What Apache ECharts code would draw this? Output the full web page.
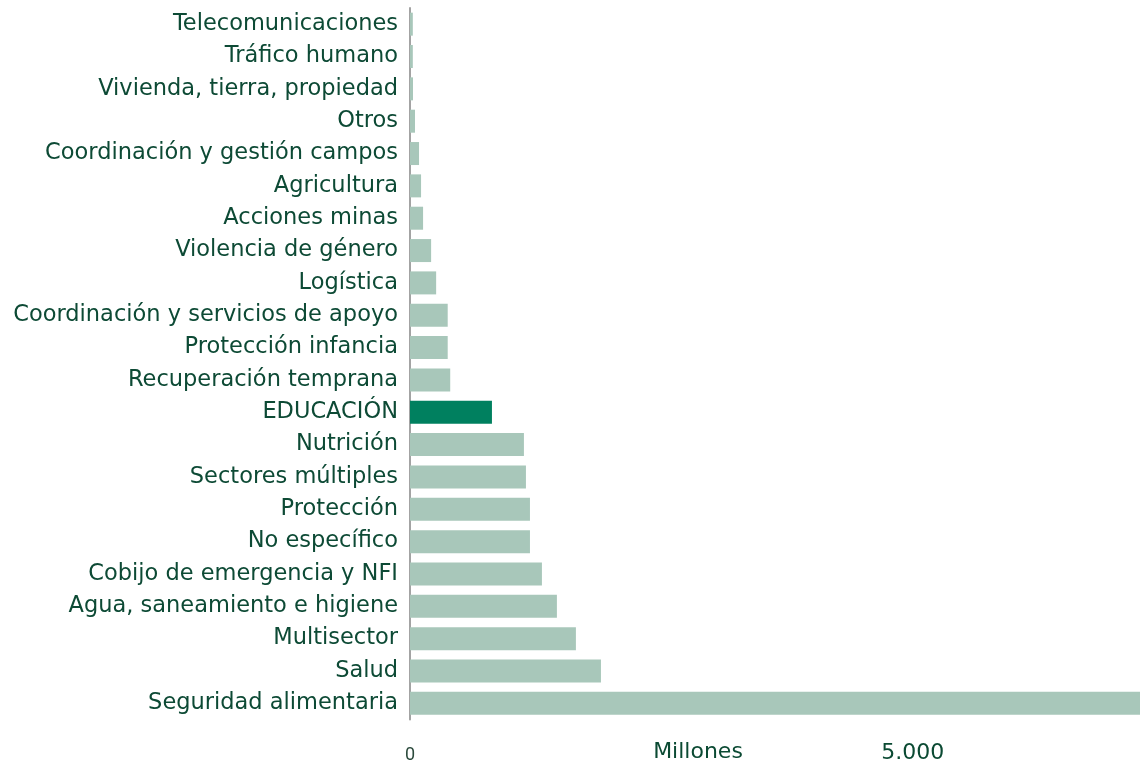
<!DOCTYPE html>
<html>
<head>
<meta charset="utf-8">
<script src="https://cdn.jsdelivr.net/npm/echarts@6/dist/echarts.min.js"></script>
<style>html,body{margin:0;padding:0;background:#fff}#c{width:1140px;height:760px}</style>
</head>
<body>
<div id="c"></div>
<script>
const categories = [
  "Telecomunicaciones","Tráfico humano","Vivienda, tierra, propiedad","Otros",
  "Coordinación y gestión campos","Agricultura","Acciones minas","Violencia de género",
  "Logística","Coordinación y servicios de apoyo","Protección infancia","Recuperación temprana",
  "EDUCACIÓN","Nutrición","Sectores múltiples","Protección","No específico",
  "Cobijo de emergencia y NFI","Agua, saneamiento e higiene","Multisector","Salud","Seguridad alimentaria"
];
const values = [28, 28, 30, 50, 90, 110, 130, 210, 260, 375, 375, 400, 815, 1133, 1153, 1193, 1193, 1312, 1461, 1650, 1899, 7300];
const highlight = "EDUCACIÓN";
const xTicks = [0, 5000];

const chart = echarts.init(document.getElementById('c'));
const font = "DejaVu Sans";
chart.setOption({
  animation: false,
  grid: { left: 410, top: 8, right: 0, height: 711.5, containLabel: false, outerBoundsMode: 'none' },
  xAxis: {
    type: 'value', min: 0, max: 7260, interval: 5000,
    axisLine: { show: false }, axisTick: { show: false }, splitLine: { show: false },
    axisLabel: {
      margin: 23, showMaxLabel: false,
      formatter: function (v) {
        if (xTicks.indexOf(v) < 0) return '';
        return v === 0 ? '{a|0}' : '{b|' + echarts.format.addCommas(v).replace(/,/g, '.') + '}';
      },
      rich: {
        a: { fontFamily: 'Roboto', fontSize: 18, color: '#2b4a3c', padding: [4, 0, 0, 0] },
        b: { fontFamily: font, fontSize: 22, color: '#0b4a33' }
      }
    }
  },
  yAxis: {
    type: 'category', data: categories, inverse: true,
    axisLine: { show: true, lineStyle: { color: '#a3a3a3', width: 2 } },
    axisTick: { show: false },
    axisLabel: { margin: 12, fontFamily: font, fontSize: 22.5, color: '#0d4a35', padding: [4, 0, 0, 0] }
  },
  graphic: [{
    type: 'text', x: 698, y: 752,
    style: { text: 'Millones', fontFamily: font, fontSize: 22, fill: '#0b4a33', align: 'center', verticalAlign: 'middle' }
  }],
  series: [{
    type: 'bar', barWidth: 23,
    data: values.map((v, i) => ({
      value: v,
      itemStyle: { color: categories[i] === highlight ? '#00805f' : '#a8c7ba' }
    }))
  }]
});
</script>
</body>
</html>
